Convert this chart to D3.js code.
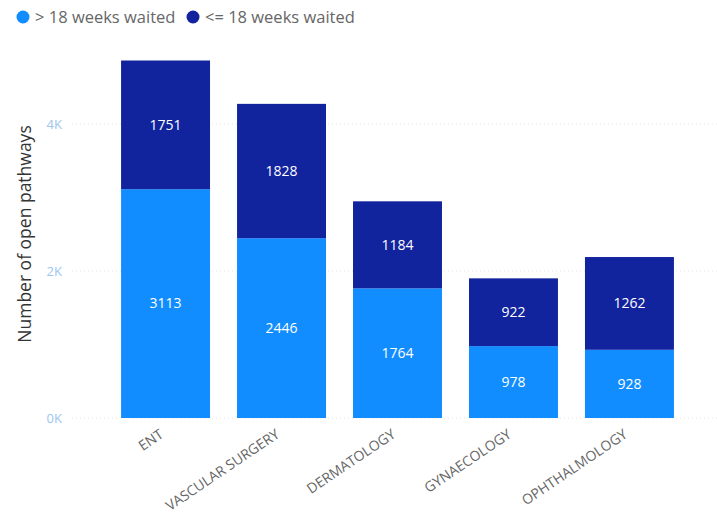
<!DOCTYPE html>
<html><head><meta charset="utf-8">
<script src="https://cdn.jsdelivr.net/npm/d3@7"></script>
<style>body{margin:0;background:#fff;} svg{display:block;font-family:"Open Sans","Noto Sans",sans-serif;}</style>
</head><body>
<svg id="c" width="717" height="527"></svg>
<script>
const categories = ["ENT","VASCULAR SURGERY","DERMATOLOGY","GYNAECOLOGY","OPHTHALMOLOGY"];
const over18 = [3113, 2446, 1764, 978, 928];
const under18 = [1751, 1828, 1184, 922, 1262];
const seriesNames = ["> 18 weeks waited", "<= 18 weeks waited"];
const seriesColors = ["#118DFF", "#12239E"];
const yTicks = [0, 2000, 4000];

const FF = '"Open Sans","Noto Sans",sans-serif';
const svg = d3.select("#c");
const x = d3.scaleBand().domain(categories).range([107.5, 687.5]).paddingInner(0.233).paddingOuter(0.117);
const y = d3.scaleLinear().domain([0, 4000]).range([418, 124]);

// gridlines
svg.append("g").selectAll("line").data(yTicks).join("line")
  .attr("x1", 72).attr("x2", 717).attr("y1", d => y(d)).attr("y2", d => y(d))
  .attr("stroke", "#e4e4e4").attr("stroke-width", 1).attr("stroke-dasharray", "1,3");

// y axis
const yAxis = d3.axisLeft(y).tickValues(yTicks).tickSize(0).tickPadding(0).tickFormat(d => (d/1000) + "K");
const yg = svg.append("g").attr("transform", "translate(62,0)").call(yAxis).attr("font-family", FF);
yg.select(".domain").remove();
yg.selectAll("text").attr("fill", "#9cc6ee").attr("font-size", 13);

svg.append("text").attr("transform", "translate(31,234) rotate(-90)")
  .attr("text-anchor", "middle").attr("font-size", 17.5).attr("fill", "#333").text("Number of open pathways");

const data = categories.map((c, i) => ({c, a: over18[i], b: under18[i]}));
const g = svg.append("g");
g.selectAll("rect.a").data(data).join("rect").attr("class","a")
  .attr("x", d => x(d.c)).attr("width", x.bandwidth())
  .attr("y", d => y(d.a)).attr("height", d => y(0) - y(d.a)).attr("fill", seriesColors[0]);
g.selectAll("rect.b").data(data).join("rect").attr("class","b")
  .attr("x", d => x(d.c)).attr("width", x.bandwidth())
  .attr("y", d => y(d.a + d.b)).attr("height", d => y(d.a) - y(d.a + d.b)).attr("fill", seriesColors[1]);

g.selectAll("text.la").data(data).join("text").attr("class","la")
  .attr("x", d => x(d.c) + x.bandwidth()/2).attr("y", d => (y(0) + y(d.a))/2)
  .attr("dy", "0.35em").attr("text-anchor", "middle").attr("fill", "#fff").attr("font-size", 14).text(d => d.a);
g.selectAll("text.lb").data(data).join("text").attr("class","lb")
  .attr("x", d => x(d.c) + x.bandwidth()/2).attr("y", d => (y(d.a) + y(d.a + d.b))/2)
  .attr("dy", "0.35em").attr("text-anchor", "middle").attr("fill", "#fff").attr("font-size", 14).text(d => d.b);

// x axis
const xAxis = d3.axisBottom(x).tickSize(0).tickPadding(0);
const xg = svg.append("g").attr("transform", "translate(0,428)").call(xAxis).attr("font-family", FF);
xg.select(".domain").remove();
xg.selectAll("text").attr("fill", "#666").attr("font-size", 14)
  .attr("text-anchor", "end").attr("dy", "0.75em")
  .attr("transform", "translate(-7,0) rotate(-34)");

// legend
const leg = svg.append("g");
const lx = [23, 193];
seriesNames.forEach((n, i) => {
  leg.append("circle").attr("cx", lx[i]).attr("cy", 17).attr("r", 6.5).attr("fill", seriesColors[i]);
  leg.append("text").attr("x", lx[i] + 12).attr("y", 17).attr("dy", "0.35em")
    .attr("font-size", 16.5).attr("fill", "#666").text(n);
});
</script>
</body></html>
